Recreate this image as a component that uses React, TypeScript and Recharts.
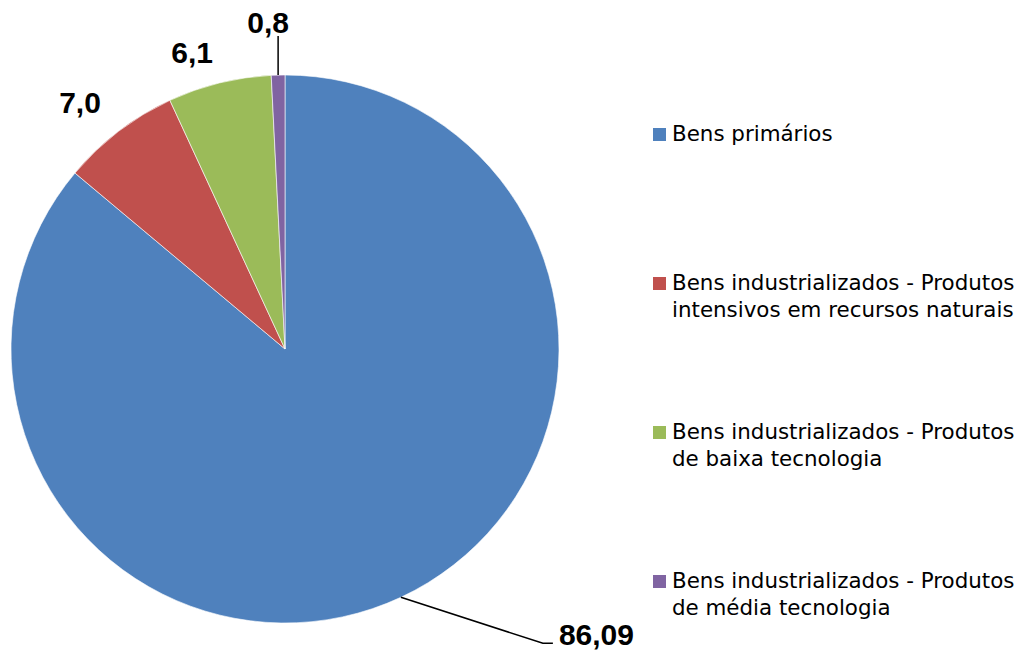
import React from "react";
import { PieChart, Pie, Cell, Legend } from "recharts";

const categories = [
  "Bens primários",
  "Bens industrializados - Produtos intensivos em recursos naturais",
  "Bens industrializados - Produtos de baixa tecnologia",
  "Bens industrializados - Produtos de média tecnologia",
];
const legendLines = [
  ["Bens primários"],
  ["Bens industrializados - Produtos", "intensivos em recursos naturais"],
  ["Bens industrializados - Produtos", "de baixa tecnologia"],
  ["Bens industrializados - Produtos", "de média tecnologia"],
];
const values = [86.09, 7.0, 6.1, 0.8];
const valueLabels = ["86,09", "7,0", "6,1", "0,8"];
const colors = ["#4F81BD", "#C0504D", "#9BBB59", "#8064A2"];

const data = categories.map((name, i) => ({ name, value: values[i] }));

const FONT = "'DejaVu Sans', sans-serif";
const LABEL_FONT = "'Liberation Sans', Arial, sans-serif";
const RAD = Math.PI / 180;

// label placement: extra radius and angular shift (degrees) per slice
const labelRadiusExtra = [0, 46.6, 37.2, 0];
const labelAngleShift = [0, 2.3, 3.5, 0];

const renderLabel = (props: any) => {
  const { cx, cy, midAngle, outerRadius, index } = props;
  const cos = Math.cos(-midAngle * RAD);
  const sin = Math.sin(-midAngle * RAD);
  const ex = cx + outerRadius * cos;
  const ey = cy + outerRadius * sin;
  const txt = valueLabels[index];
  const fs = 30;
  const common = {
    fontFamily: LABEL_FONT,
    fontWeight: 700,
    fontSize: fs,
    fill: "#000",
  };
  if (index === 0) {
    const mx = ex + 142;
    const my = ey + 46;
    return (
      <g key={`l${index}`}>
        <polyline
          points={`${ex},${ey} ${mx},${my} ${mx + 10},${my}`}
          fill="none"
          stroke="#000"
          strokeWidth={1.5}
        />
        <text x={mx + 16} y={my + 2} textAnchor="start" {...common}>
          {txt}
        </text>
      </g>
    );
  }
  if (index === 3) {
    return (
      <g key={`l${index}`}>
        <line x1={ex} y1={ey} x2={ex} y2={ey - 39} stroke="#000" strokeWidth={1.5} />
        <text x={ex - 10} y={ey - 42} textAnchor="middle" {...common}>
          {txt}
        </text>
      </g>
    );
  }
  const a = (midAngle + labelAngleShift[index]) * RAD;
  const r = outerRadius + labelRadiusExtra[index];
  const x = cx + r * Math.cos(-a);
  const y = cy + r * Math.sin(-a);
  return (
    <text key={`l${index}`} x={x} y={y + fs * 0.358} textAnchor="middle" {...common}>
      {txt}
    </text>
  );
};

const renderLegend = () => (
  <div style={{ fontFamily: FONT, fontSize: 21.4, color: "#000" }}>
    {legendLines.map((lines, i) => (
      <div key={i} style={{ position: "relative", height: 149 }}>
        <div
          style={{
            position: "absolute",
            left: 0,
            top: 8,
            width: 13,
            height: 13,
            background: colors[i],
          }}
        />
        {lines.map((ln, j) => (
          <div
            key={j}
            style={{
              position: "absolute",
              left: 19,
              top: j * 27,
              lineHeight: "27px",
              whiteSpace: "nowrap",
            }}
          >
            {ln}
          </div>
        ))}
      </div>
    ))}
  </div>
);

export default function App() {
  return (
    <div style={{ position: "absolute", left: 0, top: 0, width: 1022, height: 650, background: "#fff" }}>
      <PieChart width={1022} height={650} margin={{ top: 0, right: 0, bottom: 0, left: 0 }}>
        <Pie
          data={data}
          dataKey="value"
          nameKey="name"
          cx={285}
          cy={349}
          outerRadius={274}
          startAngle={90}
          endAngle={-270}
          stroke="#ffffff"
          strokeWidth={0.6}
          label={renderLabel}
          labelLine={false}
          isAnimationActive={false}
        >
          {data.map((d, i) => (
            <Cell key={d.name} fill={colors[i]} />
          ))}
        </Pie>
        <Legend
          layout="vertical"
          content={renderLegend}
          wrapperStyle={{ position: "absolute", left: 653, top: 120, width: 369 }}
        />
      </PieChart>
    </div>
  );
}
